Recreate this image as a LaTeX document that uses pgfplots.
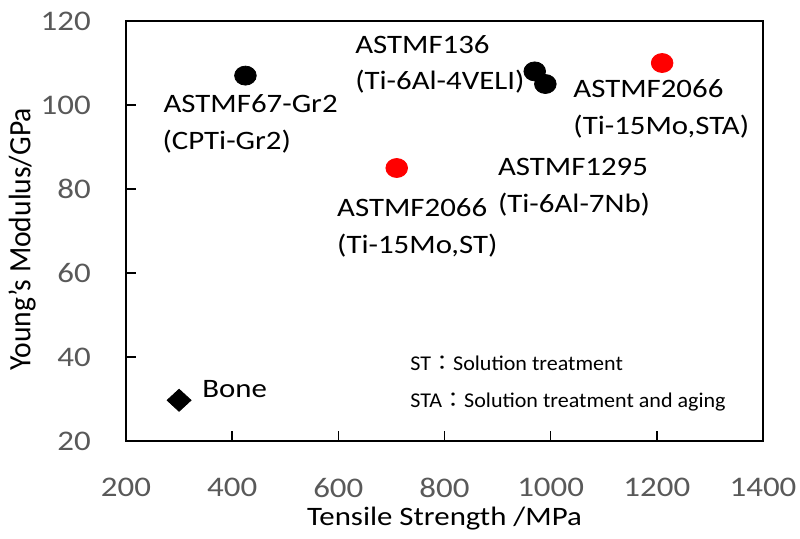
\documentclass[border=0pt]{standalone}
\usepackage{pgfplots}
\pgfplotsset{compat=1.18}
\usepackage{fontspec}
\setmainfont{Carlito}
\newfontfamily\cjk{Noto Sans CJK JP}
\definecolor{tickgray}{RGB}{89,89,89}
\begin{document}
\begin{tikzpicture}
\begin{axis}[
  scale only axis,
  width=318.5pt, height=210pt,
  xmin=200, xmax=1400, ymin=20, ymax=120,
  xtick={200,400,...,1400}, ytick={20,40,...,120},
  tick align=inside, major tick length=5pt,
  xtick pos=bottom, ytick pos=left,
  axis line style={line width=0.7pt},
  every tick/.style={black, line width=0.7pt},
  /pgf/number format/assume math mode=true,
  /pgf/number format/1000 sep={},
  tick label style={font=\fontsize{14.2}{17}\selectfont, text=tickgray, xscale=1.16},
  xticklabel style={yshift=-18.5pt},
  yticklabel style={xshift=-15pt},
  label style={font=\fontsize{13.7}{16}\selectfont},
  xlabel={Tensile Strength /MPa},
  ylabel={Young's Modulus/GPa},
  every axis x label/.style={at={(axis description cs:0.5,-0.1857)}, anchor=center, xscale=1.16},
  every axis y label/.style={at={(axis description cs:-0.163,0.48)}, anchor=center, font=\fontsize{14.8}{17}\selectfont, xscale=1.05, rotate=90},
  clip=false,
  nodes={font=\fontsize{13.3}{16}\selectfont, inner sep=0pt},
]
\addplot[only marks, mark=*, mark size=4.75pt, mark options={fill=black, draw=black, xscale=1.14}] coordinates {(425,107) (970,108) (990,105)};
\addplot[only marks, mark=*, mark size=4.75pt, mark options={fill=red, draw=red, xscale=1.14}] coordinates {(710,85) (1210,110)};
\addplot[only marks, mark=diamond*, mark size=5.5pt, mark options={fill=black, draw=black, xscale=1.45}] coordinates {(300,29.7)};
\begin{scope}[every node/.append style={xscale=1.16}]
\node[anchor=base west] at (axis cs:270,98.3) {ASTMF67-Gr2};
\node[anchor=base west] at (axis cs:268,89.3) {(CPTi-Gr2)};
\node[anchor=base west] at (axis cs:631,112.3) {ASTMF136};
\node[anchor=base west] at (axis cs:631,103.6) {(Ti-6Al-4VELI)};
\node[anchor=base west] at (axis cs:1042,101.7) {ASTMF2066};
\node[anchor=base west] at (axis cs:1042,92.9) {(Ti-15Mo,STA)};
\node[anchor=base west] at (axis cs:900,83.2) {ASTMF1295};
\node[anchor=base west] at (axis cs:900,74.3) {(Ti-6Al-7Nb)};
\node[anchor=base west] at (axis cs:597,73.4) {ASTMF2066};
\node[anchor=base west] at (axis cs:597,64.6) {(Ti-15Mo,ST)};
\node[anchor=base west] at (axis cs:343,30.3) {Bone};
\end{scope}
\begin{scope}[every node/.append style={xscale=1.05, font=\fontsize{10.5}{13}\selectfont}]
\node[anchor=base west] at (axis cs:735,36.9) {ST{\cjk ：}Solution treatment};
\node[anchor=base west] at (axis cs:735,28.0) {STA{\cjk ：}Solution treatment and aging};
\end{scope}
\end{axis}
\pgfresetboundingbox
\path (current axis.south west) ++(-63pt,-48.5pt) rectangle ++(400pt,269pt);
\end{tikzpicture}
\end{document}
